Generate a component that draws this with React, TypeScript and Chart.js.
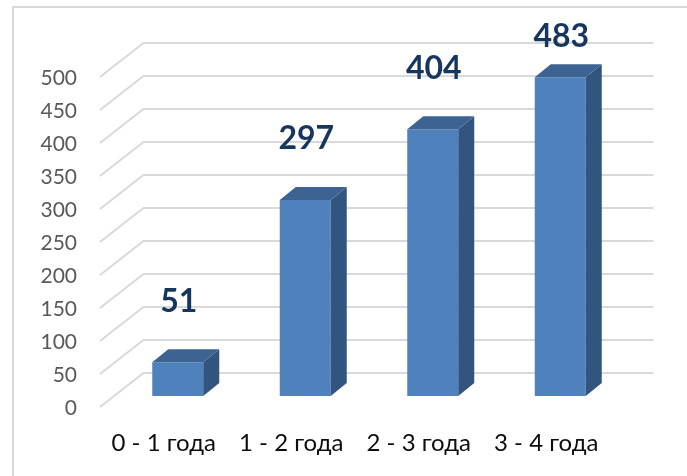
import React, { useEffect, useRef } from "react";
import { Chart, registerables } from "chart.js";

Chart.register(...registerables);

// ---- data ----
const categories = ["0 - 1 года", "1 - 2 года", "2 - 3 года", "3 - 4 года"];
const values = [51, 297, 404, 483];
const yTicks = [0, 50, 100, 150, 200, 250, 300, 350, 400, 450, 500];

// ---- 3D geometry (oblique projection offsets, px) ----
const BAR_DX = 16;
const BAR_DY = -13;
const BACK_DX = 29.5;
const BACK_DY = -23;
const FRONT_DX = -14;
const FRONT_DY = 11;

const FRONT_COLOR = "#4F81BD";
const TOP_COLOR = "#3C6391";
const SIDE_COLOR = "#325580";
const GRID_COLOR = "#D9D9D9";
const LABEL_COLOR = "#17365D";

const threeDPlugin = {
  id: "threeD",
  beforeDraw(chart: any) {
    const { ctx } = chart;
    ctx.save();
    ctx.strokeStyle = GRID_COLOR;
    ctx.lineWidth = 2;
    ctx.strokeRect(13, 7, 720, 520);
    ctx.restore();
  },
  beforeDatasetsDraw(chart: any) {
    const { ctx, chartArea: ca } = chart;
    const y = chart.scales.y;
    ctx.save();
    ctx.strokeStyle = GRID_COLOR;
    ctx.lineWidth = 2;
    y.ticks.forEach((t: any) => {
      const py = y.getPixelForValue(t.value);
      ctx.beginPath();
      ctx.moveTo(ca.left + FRONT_DX, py + FRONT_DY);
      ctx.lineTo(ca.left + BACK_DX, py + BACK_DY);
      ctx.lineTo(ca.right + BACK_DX, py + BACK_DY);
      ctx.stroke();
    });
    ctx.restore();
  },
  afterDatasetsDraw(chart: any) {
    const { ctx, chartArea: ca } = chart;
    const meta = chart.getDatasetMeta(0);
    ctx.save();
    meta.data.forEach((bar: any, i: number) => {
      const { x, y, base, width } = bar.getProps(["x", "y", "base", "width"], true);
      const l = x - width / 2;
      const r = x + width / 2;
      // side face
      ctx.fillStyle = SIDE_COLOR;
      ctx.beginPath();
      ctx.moveTo(r, y);
      ctx.lineTo(r + BAR_DX, y + BAR_DY);
      ctx.lineTo(r + BAR_DX, base + BAR_DY);
      ctx.lineTo(r, base);
      ctx.closePath();
      ctx.fill();
      // top face
      ctx.fillStyle = TOP_COLOR;
      ctx.beginPath();
      ctx.moveTo(l, y);
      ctx.lineTo(l + BAR_DX, y + BAR_DY);
      ctx.lineTo(r + BAR_DX, y + BAR_DY);
      ctx.lineTo(r, y);
      ctx.closePath();
      ctx.fill();
      // value label
      ctx.fillStyle = LABEL_COLOR;
      ctx.font = "bold 32px Lato";
      ctx.textAlign = "center";
      ctx.textBaseline = "middle";
      const ly = Math.max(y - 61, ca.top - 29);
      ctx.fillText(String(values[i]), x + 1, ly);
    });
    ctx.restore();
  },
};

export default function App() {
  const ref = useRef<HTMLCanvasElement | null>(null);

  useEffect(() => {
    document.body.style.margin = "0";
    const canvas = ref.current;
    if (!canvas) return;
    const chart = new Chart(canvas, {
      type: "bar",
      data: {
        labels: categories,
        datasets: [
          {
            data: values,
            backgroundColor: FRONT_COLOR,
            borderWidth: 0,
            barPercentage: 0.4,
            categoryPercentage: 1,
          },
        ],
      },
      options: {
        responsive: false,
        animation: false,
        devicePixelRatio: 1,
        layout: { padding: { left: 0, top: 66, right: 63, bottom: 0 } },
        plugins: {
          legend: { display: false },
          tooltip: { enabled: false },
        },
        scales: {
          x: {
            grid: { display: false, drawTicks: false },
            border: { display: false },
            ticks: {
              font: { family: "Lato", size: 24 },
              color: "#0D0D0D",
              padding: 33,
              labelOffset: FRONT_DX,
              maxRotation: 0,
              autoSkip: false,
            },
            afterFit(scale: any) {
              scale.height = 80;
            },
          },
          y: {
            min: 0,
            max: 500,
            grid: { display: false, drawTicks: false },
            border: { display: false },
            ticks: {
              font: { family: "Lato", size: 21 },
              color: "#595959",
              padding: 37,
              labelOffset: 12,
            },
            afterBuildTicks(scale: any) {
              scale.ticks = yTicks.map((v) => ({ value: v }));
            },
            afterFit(scale: any) {
              scale.width = 114;
            },
          },
        },
      },
      plugins: [threeDPlugin],
    });
    return () => chart.destroy();
  }, []);

  return (
    <div style={{ width: 687, height: 476 }}>
      <canvas ref={ref} width={687} height={476} style={{ display: "block" }} />
    </div>
  );
}
